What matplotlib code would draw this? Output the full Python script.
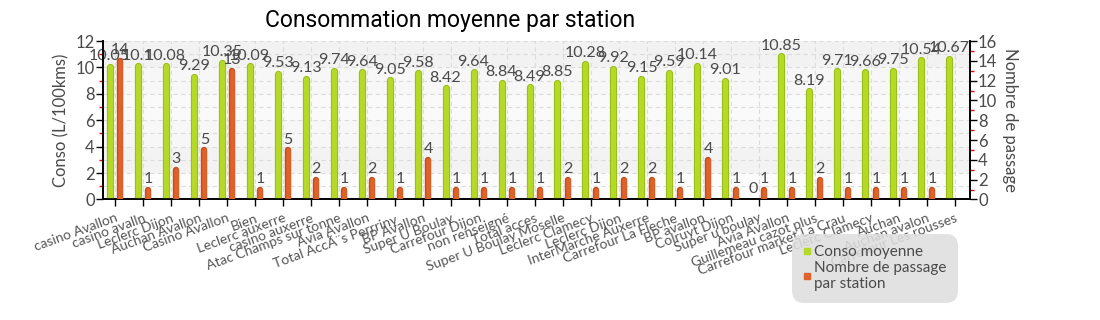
import matplotlib
matplotlib.use("Agg")
import matplotlib.pyplot as plt
import matplotlib.transforms as mtransforms
from matplotlib.lines import Line2D
import numpy as np

plt.rcParams['font.family'] = ['Lato', 'DejaVu Sans']

# Données
stations = ["casino Avallon", "casino avalln", "Leclerc Dijon", "Auchan Avallon",
            "Casino Avallon", "Bien", "Leclerc auxerre", "casino auxerre",
            "Atac Champs sur tonne", "Avia Avallon", "Total AccÃ¨s Perrriny",
            "BP Avallon", "Super U Boulay", "Carrefour Dijon", "non renseigné",
            "Total acces", "Super U Boulay Moselle", "Leclerc Clamecy", "Leclerc Dijon",
            "InterMarche Auxerre", "Carrefour La Fleche", "BP avallon", "Colruyt Dijon",
            "Super u boulay", "Avia Avallon", "Guillemeau cazot plus",
            "Carrefour market La Crau", "Leclerc Clamecy", "Auchan", "Auchan avalon",
            "Carrefour Les rousses"]
conso = [10.05, 10.1, 10.08, 9.29, 10.35, 10.09, 9.53, 9.13, 9.74, 9.64, 9.05,
         9.58, 8.42, 9.64, 8.84, 8.49, 8.85, 10.28, 9.92, 9.15, 9.59, 10.14,
         9.01, 0, 10.85, 8.19, 9.71, 9.66, 9.75, 10.54, 10.67]
passages = [14, 1, 3, 5, 13, 1, 5, 2, 1, 2, 1, 4, 1, 1, 1, 1, 2, 1, 2, 2, 1, 4,
            1, 1, 1, 2, 1, 1, 1, 1, None]

vert = '#b5d926'
vert_bord = '#97bb17'
orange = '#e0622b'
orange_bord = '#c24c1c'
gris_txt = '#4a4a4a'

x = np.arange(len(stations))
dx = 0.19

fig = plt.figure(figsize=(11, 3.2), dpi=100)
ax = fig.add_axes([0.0936, 0.3766, 0.788, 0.495])
ax2 = ax.twinx()

ax.set_xlim(-0.43, len(stations) - 1 + 0.54)
ax.set_ylim(0, 12)
ax2.set_ylim(0, 16)

# Fond en bandes
bandes = [(0, 2, '#fcfcfc'), (2, 4, '#f3f3f3'), (4, 6, '#f7f7f7'),
          (6, 8, '#fafafa'), (8, 10, '#f7f7f7'), (10, 12, '#f2f2f2')]
for b0, b1, c in bandes:
    ax.axhspan(b0, b1, color=c, zorder=0, lw=0)

# Grille
ax.set_yticks(np.arange(0, 13, 2))
ax.set_yticks(np.arange(1, 12, 2), minor=True)
ax.grid(True, which='both', axis='y', ls=(0, (4, 3)), color='#dcdcdc', lw=0.8, zorder=1)
ax.grid(True, which='major', axis='x', ls=(0, (4, 3)), color='#dcdcdc', lw=0.8, zorder=1)
ax.set_axisbelow(True)

# Barres vertes
ax.vlines(x - dx, 0, conso, colors=vert_bord, lw=5.2, capstyle='round', zorder=3)
ax.vlines(x - dx, 0, conso, colors=vert, lw=3.8, capstyle='round', zorder=4)
for xi, v in zip(x, conso):
    ax.annotate(f"{v:g}", (xi - dx, v), xytext=(0, 2.5), textcoords='offset points',
                ha='center', va='bottom', fontsize=11.5, color=gris_txt, zorder=6)

# Barres orange
xo = [xi + dx for xi, p in zip(x, passages) if p is not None]
po = [p for p in passages if p is not None]
ax2.vlines(xo, 0, po, colors=orange_bord, lw=4.6, capstyle='round', zorder=3)
ax2.vlines(xo, 0, po, colors=orange, lw=3.3, capstyle='round', zorder=4)
for xi, p in zip(xo, po):
    ax2.annotate(f"{p}", (xi, p), xytext=(0, 2.5), textcoords='offset points',
                 ha='center', va='bottom', fontsize=11.5, color=gris_txt, zorder=6)

# Axes
ax.set_xticks(x)
ax.set_xticklabels(stations, rotation=20, ha='right', va='top',
                   rotation_mode='anchor', fontsize=10, color='#555555')
decal = mtransforms.ScaledTranslation(-6 / 100, 0, fig.dpi_scale_trans)
for lab in ax.get_xticklabels():
    lab.set_transform(lab.get_transform() + decal)

ax.tick_params(axis='x', length=5, width=1, color='black', pad=4)
ax.tick_params(axis='y', which='major', length=5, width=1, color='black',
               labelsize=12, labelcolor=gris_txt, pad=1)
ax.tick_params(axis='y', which='minor', length=3, width=1, color='red')

ax2.set_yticks(np.arange(0, 17, 2))
ax2.set_yticks(np.arange(1, 16, 2), minor=True)
ax2.tick_params(axis='y', which='major', length=5, width=1, color='black',
                labelsize=12, labelcolor=gris_txt, pad=1)
ax2.tick_params(axis='y', which='minor', length=3, width=1, color='red')

for a in (ax, ax2):
    a.spines['top'].set_visible(False)
    for s in ('left', 'right', 'bottom'):
        a.spines[s].set_linewidth(1.2)
        a.spines[s].set_color('black')

ax.set_ylabel('Conso (L/100kms)', fontsize=12, color=gris_txt, labelpad=4)
ax2.set_ylabel('Nombre de passage', fontsize=12, color=gris_txt,
               rotation=270, labelpad=15)

fig.text(450 / 1100, 1 - 21 / 320, 'Consommation moyenne par station',
         ha='center', va='center', fontsize=16.5, color='black',
         family=['Roboto', 'DejaVu Sans'])

# Légende
handles = [Line2D([], [], marker='s', ls='none', color=vert, markersize=5),
           Line2D([], [], marker='s', ls='none', color=orange, markersize=5)]
leg = fig.legend(handles, ['Conso moyenne', 'Nombre de passage\npar station'],
                 loc='upper left', bbox_to_anchor=(792 / 1100, 1 - 234 / 320),
                 frameon=True, fancybox=True, facecolor='#dedede', edgecolor='none',
                 framealpha=0.88, fontsize=11, handlelength=0.5, handletextpad=0.2,
                 labelspacing=0.1, borderpad=0.75, borderaxespad=0,
                 labelcolor=gris_txt)
leg.get_frame().set_boxstyle('round,pad=0,rounding_size=0.8')

fig.savefig('out.png', dpi=100)
